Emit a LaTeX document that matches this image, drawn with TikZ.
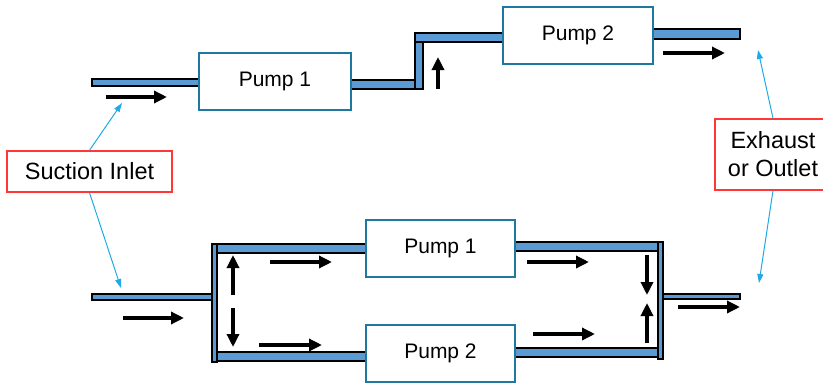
\documentclass[tikz,border=0pt]{standalone}
\usepackage{fontspec}
\setmainfont{Liberation Sans}
\usetikzlibrary{arrows.meta,positioning}
\definecolor{pipeblue}{RGB}{91,155,213}
\definecolor{pumpteal}{RGB}{31,120,160}
\definecolor{calloutred}{RGB}{255,55,55}
\definecolor{leadblue}{RGB}{30,170,230}

\begin{document}
\begin{tikzpicture}[x=1pt,y=-1pt,
  pipe/.style={draw=black,line width=1.1pt,fill=pipeblue},
  pump/.style={draw=pumpteal,line width=1.8pt,fill=white,minimum width=150pt,minimum height=57pt,font=\fontsize{21}{25}\selectfont},
  callout/.style={draw=calloutred,line width=1.4pt,fill=white,align=center,font=\fontsize{23.5}{28}\selectfont},
  flow/.style={line width=4.2pt,-{Triangle[length=13pt,width=12pt]}},
  lead/.style={leadblue,line width=1pt,-{Triangle[length=9pt,width=6pt]}}]
\useasboundingbox (0,0) rectangle (823,383);
% series: pipes
\draw[pipe] (92,79) rectangle (199,86);
\draw[pipe] (351,80) rectangle (423,89);
\draw[pipe] (415,33) rectangle (503,42);
\draw[pipe] (415,42) rectangle (423,89);
\draw[pipe] (649,29) rectangle (740,39);
% parallel: pipes
\draw[pipe] (92,294) rectangle (217,300);
\draw[pipe] (217,244) rectangle (366,253);
\draw[pipe] (217,352) rectangle (366,361);
\draw[pipe] (212,244) rectangle (217,362);
\draw[pipe] (515,242) rectangle (659,251);
\draw[pipe] (515,348) rectangle (659,357);
\draw[pipe] (658,242) rectangle (663,359);
\draw[pipe] (663,294) rectangle (740,299);
% pumps
\node[pump,minimum width=152pt] (sp1) at (275,81.5) {Pump 1};
\node[pump] (sp2) at (578,35.5) {Pump 2};
\node[pump,minimum width=149pt] (pp1) at (440.5,248.5) {Pump 1};
\node[pump,minimum width=149pt] (pp2) at (440.5,353.5) {Pump 2};
% labels
\node[callout,minimum width=165pt,minimum height=41pt] (inlet) at (89.5,171.5) {Suction Inlet};
\node[callout,minimum width=116pt,minimum height=71pt] (outlet) at (773,154.5) {Exhaust\\or Outlet};
\coordinate (inS) at (122,103);
\coordinate (inP) at (121,288);
\coordinate (outS) at (758,50);
\coordinate (outP) at (759,283);
\draw[lead] (inlet.north) -- (inS);
\draw[lead] (inlet.south) -- (inP);
\draw[lead] (outlet.north) -- (outS);
\draw[lead] (outlet.south) -- (outP);
% flow direction
\draw[flow] (106,97) -- (167,97);
\draw[flow] (438,89) -- (438,57);
\draw[flow] (663,53) -- (725,53);
\draw[flow] (123,318) -- (184,318);
\draw[flow] (233,295) -- (233,255);
\draw[flow] (233,308) -- (233,347);
\draw[flow] (270,262) -- (332,262);
\draw[flow] (259,345) -- (322,345);
\draw[flow] (527,262) -- (589,262);
\draw[flow] (533,334) -- (595,334);
\draw[flow] (647,255) -- (647,295);
\draw[flow] (647,343) -- (647,303);
\draw[flow] (678,307) -- (740,307);
\end{tikzpicture}
\end{document}
